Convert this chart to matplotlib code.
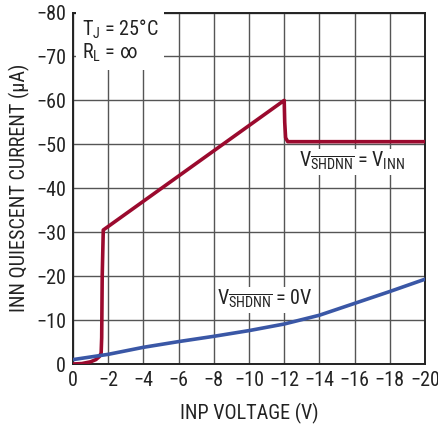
import numpy as np
import matplotlib
matplotlib.use("Agg")
import matplotlib.pyplot as plt

# 数据：INP 电压 (V) 与 INN 静态电流 (uA)
redX = [0, -0.5, -1.0, -1.3, -1.5, -1.6, -1.63, -1.66, -1.72, -12.0, -12.03, -12.08, -12.2, -20]
redY = [0, -0.1, -0.5, -1.0, -1.7, -2.5, -6.0, -20.0, -30.5, -60.0, -55.0, -51.5, -50.6, -50.6]
blueX = [0, -2, -4, -6, -8, -10, -12, -14, -16, -18, -20]
blueY = [-1.0, -2.2, -3.8, -5.1, -6.3, -7.6, -9.1, -11.1, -13.8, -16.5, -19.3]
xTicks = [0, -2, -4, -6, -8, -10, -12, -14, -16, -18, -20]
yTicks = [0, -10, -20, -30, -40, -50, -60, -70, -80]

fontName = 'Roboto Condensed'
plt.rcParams['font.family'] = [fontName, 'DejaVu Sans']
plt.rcParams['mathtext.fontset'] = 'custom'
plt.rcParams['mathtext.rm'] = fontName
plt.rcParams['mathtext.it'] = fontName
plt.rcParams['mathtext.bf'] = fontName

fig = plt.figure(figsize=(4.39, 4.25), dpi=100)
ax = fig.add_axes([73 / 439, 61 / 425, 352 / 439, 351.5 / 425])

ax.plot(redX, redY, color='#9b0a2e', lw=2.6, solid_joinstyle='round', zorder=3)
ax.plot(blueX, blueY, color='#3a57a6', lw=2.6, zorder=3)

ax.set_xlim(0, -20)
ax.set_ylim(0, -80)
ax.set_xticks(xTicks)
ax.set_yticks(yTicks)
ax.set_xticklabels([str(v).replace('-', '\u2212') for v in xTicks])
ax.set_yticklabels([str(v).replace('-', '\u2212') for v in yTicks])
ax.tick_params(length=0, labelsize=14.5, pad=5, colors='#222222')
ax.grid(True, color='#555555', lw=1.0)
for s in ax.spines.values():
    s.set_linewidth(1.4)
    s.set_color('#222222')

ax.set_xlabel('INP VOLTAGE (V)', fontsize=14.5, labelpad=9, color='#222222')
ax.set_ylabel('INN QUIESCENT CURRENT (\u00b5A)', fontsize=14.5, labelpad=4, color='#222222')

ax.text(0.025, 0.985, 'T$_\\mathrm{J}$ = 25\u00b0C\nR$_\\mathrm{L}$ = \u221e', transform=ax.transAxes,
        ha='left', va='top', fontsize=14.5, linespacing=1.05, color='#222222',
        bbox=dict(fc='white', ec='none', pad=4), zorder=4)

ax.text(-12.85, -46, r'V$_{\overline{\mathrm{SHDNN}}}$ = V$_\mathrm{INN}$', ha='left', va='center',
        fontsize=14.5, color='#222222', zorder=4, bbox=dict(fc='white', ec='none', pad=1))
ax.text(-8.2, -14.6, r'V$_{\overline{\mathrm{SHDNN}}}$ = 0V', ha='left', va='center',
        fontsize=14.5, color='#222222', zorder=4, bbox=dict(fc='white', ec='none', pad=1))

fig.savefig('out.png', dpi=100, facecolor='white')
